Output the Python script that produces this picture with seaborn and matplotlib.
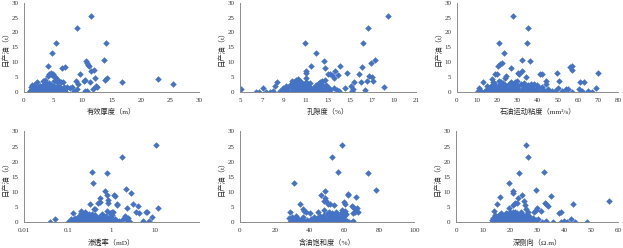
import matplotlib
matplotlib.use('Agg')
import matplotlib.pyplot as plt
import seaborn as sns
import pandas as pd

sns.set_style('white')
plt.rcParams['font.family'] = ['Liberation Serif', 'Noto Sans CJK SC']

# (x, daily oil) pairs
thickness_oil = [
    (11.4, 25.4), (9.1, 21.6), (5.5, 16.3), (14.1, 16.5), (4.8, 13.1), (13.7, 10.9), (10.6, 10.3), (10.8, 9.8),
    (11.0, 9.2), (11.1, 8.6), (4.2, 8.9), (6.6, 8.2), (7.0, 8.4), (9.6, 5.9), (11.4, 7.0), (12.0, 7.3),
    (12.2, 4.7), (4.3, 6.0), (4.6, 6.3), (5.0, 6.2), (4.8, 5.8), (5.3, 5.1), (10.2, 3.6), (10.5, 4.0),
    (11.3, 3.4), (13.9, 3.9), (14.3, 4.6), (16.8, 3.5), (22.9, 4.4), (25.6, 2.8), (8.9, 3.6), (9.3, 2.8),
    (9.1, 1.1), (10.4, 0.5), (10.8, 0.4), (12.3, 2.1), (11.8, 1.0), (12.5, 1.7), (7.3, 1.8), (7.8, 1.2),
    (8.3, 1.7), (8.6, 0.3), (6.0, 3.6), (6.4, 3.5), (6.7, 3.5), (5.7, 3.5), (5.2, 3.6), (2.2, 3.3),
    (3.6, 3.9), (3.3, 3.6), (4.1, 5.4), (5.5, 4.6),
    (1.0, 0.2), (1.1, 0.5), (1.2, 0.1), (1.3, 0.8), (1.4, 0.3), (1.5, 1.0), (1.6, 0.4), (1.7, 0.0),
    (1.8, 1.2), (1.9, 0.6), (2.0, 0.2), (2.1, 1.5), (2.2, 0.9), (2.3, 0.3), (2.4, 1.8), (2.5, 0.5),
    (2.6, 1.1), (2.7, 0.0), (2.8, 2.0), (2.9, 0.7), (3.0, 1.3), (3.1, 0.2), (3.2, 2.4), (3.3, 0.6),
    (3.4, 1.6), (3.5, 0.1), (3.6, 2.2), (3.7, 0.9), (3.8, 1.4), (3.9, 0.3), (4.0, 2.6), (4.1, 0.5),
    (4.2, 1.0), (4.3, 2.9), (4.4, 0.2), (4.5, 1.7), (4.6, 0.8), (4.7, 2.3), (4.8, 0.4), (4.9, 1.2),
    (5.0, 0.0), (5.1, 1.9), (5.2, 0.6), (5.4, 1.4), (5.6, 0.3), (5.8, 2.1), (6.0, 0.5), (6.2, 1.1),
    (6.4, 0.2), (6.6, 0.9), (6.8, 1.6), (7.0, 0.4), (1.2, 1.6), (1.5, 0.0), (1.8, 2.3), (2.1, 0.4),
    (2.4, 0.8), (2.7, 1.9), (3.0, 0.4), (3.3, 1.0), (3.6, 0.7), (3.9, 2.7), (4.2, 0.1), (4.5, 1.2),
    (4.8, 2.0), (5.1, 0.8), (5.5, 0.1), (5.9, 1.3), (6.3, 0.6), (6.7, 0.0), (7.1, 1.0), (1.4, 2.5),
    (2.0, 1.2), (2.6, 0.2), (3.2, 2.0), (3.8, 0.0), (4.4, 0.6), (5.0, 1.5), (5.6, 0.2), (6.2, 1.8),
]

porosity_oil = [
    (5.1, 1.1), (6.5, 0.0), (6.7, 0.0), (7.1, 1.3), (7.4, 0.0), (7.7, 0.0), (8.0, 0.5), (8.2, 1.9),
    (8.4, 3.3), (10.9, 16.6), (11.9, 13.1), (11.5, 8.9), (11.0, 7.0), (11.0, 6.3), (11.0, 4.6), (11.0, 3.5),
    (12.6, 10.3), (12.7, 8.2), (13.0, 6.0), (13.2, 6.2), (13.4, 5.8), (13.5, 4.8), (13.6, 7.2), (13.9, 5.8),
    (14.1, 8.9), (14.5, 1.4), (14.7, 6.4), (15.1, 2.0), (15.2, 0.4), (15.4, 3.5), (15.8, 6.0), (16.0, 3.3),
    (16.2, 16.3), (16.1, 8.4), (16.4, 0.6), (16.6, 21.6), (16.5, 3.6), (16.7, 5.4), (16.9, 9.7), (17.0, 4.9),
    (17.3, 10.8), (17.1, 3.6), (18.1, 1.8), (18.4, 25.4), (12.3, 3.3), (12.5, 3.7), (12.7, 4.0), (11.7, 1.2),
    (9.7, 3.8), (10.1, 4.2), (10.3, 4.5), (10.5, 3.6), (9.9, 3.3), (13.2, 0.8), (13.5, 1.2), (13.8, 0.6),
    (14.0, 0.2), (15.3, 0.9),
    (8.6, 0.4), (8.8, 0.1), (9.0, 0.8), (9.1, 0.2), (9.3, 1.2), (9.4, 0.5), (9.5, 0.0), (9.6, 1.6),
    (9.7, 0.3), (9.8, 2.2), (9.9, 0.9), (10.0, 0.1), (10.1, 1.4), (10.2, 2.8), (10.3, 0.6), (10.4, 1.9),
    (10.5, 0.2), (10.6, 1.1), (10.7, 0.4), (10.8, 2.4), (10.9, 0.8), (11.0, 0.1), (11.1, 1.5), (11.2, 0.5),
    (11.3, 2.0), (11.4, 0.9), (11.5, 0.2), (11.6, 1.3), (11.7, 0.6), (11.8, 1.8), (11.9, 0.3), (12.0, 1.0),
    (12.1, 2.6), (12.2, 0.4), (12.3, 1.5), (12.4, 0.1), (12.5, 2.3), (12.6, 0.7), (12.7, 1.2), (12.8, 0.3),
    (12.9, 1.8), (13.0, 0.5), (13.1, 1.3), (9.2, 2.0), (9.6, 2.6), (10.0, 3.0), (10.4, 0.0), (10.8, 1.6),
    (11.2, 2.7), (11.6, 0.0), (12.0, 2.0), (12.4, 3.0), (12.8, 2.5), (8.9, 1.5), (9.4, 1.8), (10.6, 2.9),
    (11.4, 3.0), (11.9, 2.3), (12.2, 1.7), (10.2, 1.0),
]

viscosity_oil = [
    (27.8, 25.4), (35.0, 21.6), (21.0, 16.6), (34.7, 16.4), (23.5, 13.1), (32.0, 10.9), (36.0, 10.3), (20.5, 8.9),
    (21.5, 9.3), (22.5, 9.7), (26.6, 8.2), (56.0, 8.4), (57.0, 8.9), (57.0, 7.3), (31.0, 6.2), (32.0, 7.1),
    (30.5, 6.4), (70.0, 6.3), (19.0, 6.2), (20.0, 6.0), (42.0, 5.9), (41.0, 6.0), (49.5, 6.4), (17.5, 4.4),
    (24.0, 4.7), (24.5, 5.4), (34.0, 5.0), (13.0, 3.3), (18.0, 3.5), (21.0, 3.8), (22.0, 3.4), (27.0, 3.5),
    (30.0, 3.6), (29.0, 3.2), (44.0, 3.7), (44.0, 2.8), (50.5, 3.8), (61.0, 3.5), (63.0, 3.5), (11.0, 1.3),
    (69.0, 1.2), (65.0, 0.5), (67.0, 0.0), (57.0, 0.0), (54.0, 0.9), (55.0, 1.1), (60.5, 1.0), (62.0, 0.5),
    (38.0, 2.8), (42.0, 1.8), (47.0, 0.5), (48.5, 0.2), (50.0, 1.5), (52.0, 0.3), (46.0, 0.0),
    (10.5, 0.2), (12.0, 0.5), (13.5, 0.0), (14.5, 0.8), (15.5, 0.3), (16.0, 1.2), (16.5, 0.1), (17.0, 2.0),
    (17.5, 0.6), (18.0, 1.5), (18.5, 0.2), (19.0, 2.4), (19.5, 0.8), (20.0, 0.0), (20.5, 1.8), (21.0, 0.4),
    (21.5, 2.8), (22.0, 1.0), (22.5, 0.2), (23.0, 1.6), (23.5, 0.6), (24.0, 2.2), (24.5, 0.1), (25.0, 1.2),
    (25.5, 0.5), (26.0, 2.6), (26.5, 0.9), (27.0, 0.2), (27.5, 1.7), (28.0, 0.6), (28.5, 2.3), (29.0, 0.0),
    (29.5, 1.0), (30.0, 0.4), (30.5, 1.9), (31.0, 0.7), (31.5, 2.7), (32.0, 0.2), (32.5, 1.3), (33.0, 0.5),
    (33.5, 2.0), (34.0, 0.1), (34.5, 1.0), (35.0, 2.5), (35.5, 0.3), (36.0, 1.4), (36.5, 0.6), (37.0, 2.0),
    (37.5, 0.0), (38.0, 1.1), (39.0, 0.4), (40.0, 1.7), (41.0, 0.2), (42.5, 0.8), (43.5, 0.3), (45.0, 1.0),
    (15.0, 2.0), (18.5, 3.0), (23.0, 3.0), (26.0, 1.0), (29.0, 2.6), (33.0, 3.1), (36.5, 2.6), (39.5, 2.2),
]

permeability_oil = [
    (0.04, 0.0), (0.05, 1.1), (10.5, 25.4), (1.7, 21.6), (0.35, 16.6), (0.8, 16.3), (0.38, 13.1), (2.1, 10.9),
    (0.7, 10.4), (2.8, 9.6), (1.15, 9.0), (1.2, 8.6), (0.8, 8.9), (0.55, 8.2), (0.55, 6.8), (0.5, 6.4),
    (0.85, 7.4), (0.85, 6.3), (1.35, 6.1), (1.3, 5.8), (3.1, 6.0), (4.0, 5.4), (11.5, 4.9), (3.6, 3.5),
    (4.3, 3.2), (6.0, 3.5), (6.5, 3.5), (2.2, 4.7), (2.4, 1.4), (2.0, 2.0), (2.2, 0.9), (5.2, 0.5),
    (8.2, 1.8), (7.3, 0.6), (2.6, 0.0), (0.33, 6.0), (0.42, 4.5), (0.4, 4.6), (0.2, 3.9), (0.13, 3.2),
    (0.12, 1.3), (0.1, 0.0), (0.8, 3.7), (0.9, 3.0), (1.0, 3.5), (1.1, 3.6), (1.5, 0.5), (1.8, 1.2),
    (2.5, 0.3),
    (0.11, 0.3), (0.12, 0.0), (0.13, 0.8), (0.14, 0.2), (0.15, 1.5), (0.16, 0.5), (0.17, 0.0), (0.18, 2.0),
    (0.19, 0.7), (0.2, 1.2), (0.21, 0.1), (0.22, 2.5), (0.23, 0.4), (0.24, 1.7), (0.25, 0.0), (0.26, 0.9),
    (0.27, 2.8), (0.28, 0.3), (0.29, 1.4), (0.3, 0.6), (0.31, 2.1), (0.32, 0.1), (0.34, 1.0), (0.36, 0.4),
    (0.38, 1.8), (0.4, 0.0), (0.42, 2.4), (0.44, 0.7), (0.46, 1.3), (0.48, 0.2), (0.5, 0.9), (0.53, 1.9),
    (0.56, 0.3), (0.6, 1.2), (0.63, 0.5), (0.66, 2.0), (0.7, 0.1), (0.74, 1.5), (0.78, 0.6), (0.82, 0.0),
    (0.86, 1.1), (0.9, 0.3), (0.95, 1.8), (1.0, 0.7), (1.05, 2.4), (1.1, 0.2), (1.2, 1.2), (1.3, 0.5),
    (0.2, 3.0), (0.25, 3.4), (0.3, 2.9), (0.22, 0.8), (0.18, 0.4), (0.28, 1.9), (0.35, 2.7), (0.16, 1.1),
    (0.45, 1.0), (0.6, 2.8), (0.75, 2.2), (0.95, 3.2),
]

saturation_oil = [
    (58.8, 25.4), (53.0, 21.6), (56.5, 16.6), (73.5, 16.3), (31.0, 13.1), (78.0, 10.8), (49.0, 10.3), (49.0, 8.1),
    (46.5, 8.9), (62.0, 9.4), (62.0, 9.0), (66.5, 8.4), (48.0, 7.2), (49.5, 7.0), (50.5, 6.2), (51.5, 6.0),
    (54.0, 5.8), (59.5, 6.9), (60.0, 6.2), (34.5, 6.0), (36.0, 4.6), (37.0, 3.9), (38.0, 3.3), (40.0, 3.1),
    (64.5, 5.4), (65.0, 5.0), (67.0, 4.9), (66.0, 4.3), (68.0, 3.4), (66.0, 3.5), (65.0, 3.0), (29.0, 3.3),
    (28.0, 1.6), (32.0, 2.0), (30.0, 1.9), (45.0, 3.6), (48.0, 4.0), (51.0, 3.6), (55.0, 3.5), (58.5, 4.2),
    (59.0, 3.3), (60.0, 3.8), (61.0, 2.8), (65.0, 0.5), (64.5, 0.3), (62.5, 0.0),
    (28.5, 0.0), (29.5, 0.5), (30.5, 0.1), (31.5, 1.0), (32.5, 0.3), (33.0, 1.5), (33.5, 0.0), (34.0, 0.7),
    (35.0, 0.2), (35.5, 1.2), (36.5, 0.4), (37.5, 0.0), (38.5, 0.8), (39.5, 0.2), (40.5, 0.5), (41.0, 1.0),
    (42.0, 0.0), (43.0, 0.6), (44.0, 1.4), (44.5, 0.2), (45.5, 0.9), (46.0, 2.0), (46.5, 0.3), (47.0, 1.5),
    (47.5, 0.0), (48.0, 2.5), (48.5, 0.7), (49.0, 1.2), (49.5, 0.1), (50.0, 2.8), (50.5, 0.5), (51.0, 1.8),
    (51.5, 0.2), (52.0, 1.0), (52.5, 2.2), (53.0, 0.4), (53.5, 1.4), (54.0, 0.0), (54.5, 2.6), (55.0, 0.8),
    (55.5, 1.6), (56.0, 0.2), (56.5, 2.0), (57.0, 0.6), (57.5, 1.1), (58.0, 3.0), (58.5, 0.3), (59.0, 1.7),
    (59.5, 0.0), (60.0, 2.4), (60.5, 0.9), (61.5, 0.4), (31.0, 0.8), (36.0, 1.8), (42.5, 1.9), (45.0, 0.4),
    (53.0, 3.0), (56.0, 1.3), (40.0, 0.0), (34.5, 0.4),
]

resistivity_oil = [
    (26.0, 25.4), (26.5, 21.6), (23.3, 16.3), (32.5, 16.6), (19.5, 13.1), (29.5, 10.8), (21.0, 10.3), (21.0, 9.6),
    (24.5, 9.0), (35.0, 8.8), (16.3, 8.4), (23.0, 8.1), (22.0, 6.3), (21.0, 5.8), (22.5, 6.4), (25.0, 7.2),
    (25.5, 5.7), (26.0, 4.6), (19.5, 4.9), (15.0, 6.0), (14.0, 3.8), (33.0, 6.3), (33.5, 6.0), (34.0, 5.4),
    (31.5, 3.8), (29.0, 3.6), (29.5, 4.2), (30.0, 4.7), (38.0, 3.2), (39.0, 3.5), (43.5, 6.2), (56.5, 7.0),
    (42.5, 1.0), (44.0, 0.2), (48.5, 0.0), (40.0, 0.5), (39.0, 0.3), (41.0, 0.0), (26.0, 2.6), (26.5, 3.6),
    (27.0, 2.0), (20.0, 3.5), (21.0, 3.6), (22.0, 3.4), (24.0, 3.5), (28.0, 0.5), (30.5, 1.0), (32.0, 0.3),
    (33.5, 0.6), (36.0, 0.2),
    (13.2, 0.2), (13.5, 0.8), (14.0, 0.0), (14.3, 1.3), (14.7, 0.4), (15.0, 1.9), (15.3, 0.1), (15.7, 0.9),
    (16.0, 2.5), (16.3, 0.5), (16.7, 1.5), (17.0, 0.0), (17.3, 2.1), (17.7, 0.7), (18.0, 1.2), (18.3, 0.2),
    (18.7, 2.8), (19.0, 0.6), (19.3, 1.7), (19.7, 0.0), (20.0, 1.0), (20.3, 2.3), (20.7, 0.3), (21.0, 1.4),
    (21.3, 0.1), (21.7, 2.0), (22.0, 0.8), (22.3, 0.0), (22.7, 1.6), (23.0, 0.4), (23.3, 2.6), (23.7, 1.1),
    (24.0, 0.2), (24.3, 1.8), (24.7, 0.6), (25.0, 0.0), (25.3, 1.3), (25.7, 0.4), (26.3, 1.0), (27.0, 0.1),
    (27.5, 0.7), (28.5, 1.5), (29.0, 0.2), (29.5, 0.8), (14.5, 2.4), (16.5, 3.0), (18.5, 3.2), (20.5, 2.9),
    (22.5, 3.0), (24.5, 2.7), (17.5, 1.0), (19.5, 0.4), (21.5, 0.6), (23.5, 0.0), (15.5, 0.6), (13.8, 1.6),
]

xlabels = ['有效厚度（m）', '孔隙度（%）', '石油运动粘度（mm²/s）',
           '渗透率（mD）', '含油饱和度（%）', '深侧向（Ω.m）']
xlims = [(0, 30), (5, 21), (0, 80), (0.01, 100), (0, 100), (0, 60)]
xticks = [list(range(0, 31, 5)), list(range(5, 22, 2)), list(range(0, 81, 10)),
          [0.01, 0.1, 1, 10], list(range(0, 101, 20)), list(range(0, 61, 10))]
xticklabels = [None, None, None, ['0.01', '0.1', '1', '10'], None, None]
ylabel = '日产油（t）'

panels = [thickness_oil, porosity_oil, viscosity_oil,
          permeability_oil, saturation_oil, resistivity_oil]

# axes boxes in figure fraction [left, bottom, width, height]
boxes = [
    [0.0385, 0.629, 0.281, 0.360],
    [0.385, 0.629, 0.283, 0.360],
    [0.7335, 0.629, 0.259, 0.360],
    [0.0385, 0.103, 0.281, 0.367],
    [0.385, 0.103, 0.280, 0.367],
    [0.732, 0.103, 0.260, 0.367],
]

axis_grey = '#8c8c8c'
blue = '#4472C4'

fig = plt.figure(figsize=(6.23, 2.48), dpi=100)
for i, pts in enumerate(panels):
    ax = fig.add_axes(boxes[i])
    df = pd.DataFrame(pts, columns=['x', 'y'])
    sns.scatterplot(data=df, x='x', y='y', ax=ax, marker='D', s=11,
                    color=blue, linewidth=0, legend=False)
    if i == 3:
        ax.set_xscale('log')
    ax.set_xlim(*xlims[i])
    ax.set_ylim(0, 30)
    ax.set_xticks(xticks[i])
    if xticklabels[i] is not None:
        ax.set_xticklabels(xticklabels[i])
    ax.minorticks_off()
    ax.set_yticks(range(0, 31, 5))
    ax.set_xlabel(xlabels[i], fontsize=5.2, labelpad=4)
    ax.set_ylabel(ylabel, fontsize=5.2, labelpad=2)
    ax.tick_params(axis='both', labelsize=5, length=1.5, width=0.6,
                   color=axis_grey, pad=2.5, labelcolor='#333333')
    for side in ['top', 'right']:
        ax.spines[side].set_visible(False)
    for side in ['left', 'bottom']:
        ax.spines[side].set_color(axis_grey)
        ax.spines[side].set_linewidth(0.7)
    ax.patch.set_alpha(0)

fig.savefig('out.png', dpi=100)
